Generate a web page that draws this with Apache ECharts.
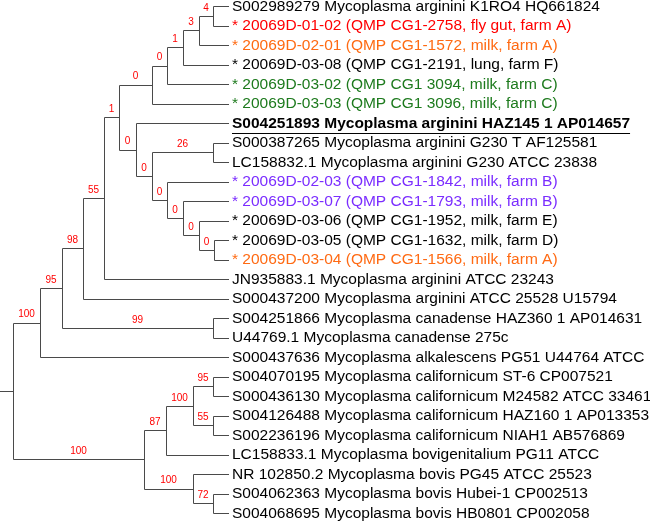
<!DOCTYPE html>
<html>
<head>
<meta charset="utf-8">
<script src="https://cdn.jsdelivr.net/npm/echarts@6/dist/echarts.min.js"></script>
<style>html,body{margin:0;padding:0;background:#fff;}#chart{width:650px;height:526px;}</style>
</head>
<body>
<div id="chart"></div>
<script>
// ---- DATA ----
const leafNames = [
  'S002989279 Mycoplasma arginini K1RO4 HQ661824',
  '* 20069D-01-02 (QMP CG1-2758, fly gut, farm A)',
  '* 20069D-02-01 (QMP CG1-1572, milk, farm A)',
  '* 20069D-03-08 (QMP CG1-2191, lung, farm F)',
  '* 20069D-03-02 (QMP CG1 3094, milk, farm C)',
  '* 20069D-03-03 (QMP CG1 3096, milk, farm C)',
  'S004251893 Mycoplasma arginini HAZ145 1 AP014657',
  'S000387265 Mycoplasma arginini G230 T AF125581',
  'LC158832.1 Mycoplasma arginini G230 ATCC 23838',
  '* 20069D-02-03 (QMP CG1-1842, milk, farm B)',
  '* 20069D-03-07 (QMP CG1-1793, milk, farm B)',
  '* 20069D-03-06 (QMP CG1-1952, milk, farm E)',
  '* 20069D-03-05 (QMP CG1-1632, milk, farm D)',
  '* 20069D-03-04 (QMP CG1-1566, milk, farm A)',
  'JN935883.1 Mycoplasma arginini ATCC 23243',
  'S000437200 Mycoplasma arginini ATCC 25528 U15794',
  'S004251866 Mycoplasma canadense HAZ360 1 AP014631',
  'U44769.1 Mycoplasma canadense 275c',
  'S000437636 Mycoplasma alkalescens PG51 U44764 ATCC',
  'S004070195 Mycoplasma californicum ST-6 CP007521',
  'S000436130 Mycoplasma californicum M24582 ATCC 33461',
  'S004126488 Mycoplasma californicum HAZ160 1 AP013353',
  'S002236196 Mycoplasma californicum NIAH1 AB576869',
  'LC158833.1 Mycoplasma bovigenitalium PG11 ATCC',
  'NR 102850.2 Mycoplasma bovis PG45 ATCC 25523',
  'S004062363 Mycoplasma bovis Hubei-1 CP002513',
  'S004068695 Mycoplasma bovis HB0801 CP002058'
];
const leafGroups = ['ref','flyA','milkA','farmF','farmC','farmC','typeRef','ref','ref','farmB','farmB','farmE','farmD','milkA',
  'ref','ref','ref','ref','ref','ref','ref','ref','ref','ref','ref','ref','ref'];
const leafDepth = 229;

// internal nodes: id, depth, children (numbers = leaf index, strings = node id), bootstrap support
const nodeIds      = ['root','R','O','N','M','G','L','K','J','I','H','A','B','P','C','D','E','F','Q','S','T','V','W','X','U','Y'];
const nodeDepths   = [13, 40, 62, 83, 104, 119, 152, 167, 183, 199, 213, 136, 152, 213, 167, 183, 199, 214, 213, 144, 166, 193, 213, 213, 193, 213];
const nodeChildren = [['R','S'],['O',18],['N','Q'],['M',15],['G',14],['L','A'],['K',5],['J',4],['I',3],['H',2],[0,1],
  [6,'B'],['P','C'],[7,8],[9,'D'],[10,'E'],[11,'F'],[12,13],[16,17],['T','U'],['V',23],['W','X'],[19,20],[21,22],[24,'Y'],[25,26]];
const nodeSupport  = [null,100,95,98,55,1,0,0,1,3,4,0,0,26,0,0,0,0,99,100,87,100,95,55,100,72];

// ---- STYLE ----
const groupColor = {ref:'#000000', typeRef:'#000000', flyA:'#ff0000', milkA:'#ff6a13', farmF:'#000000',
  farmC:'#1d7a1d', farmB:'#7b2dff', farmE:'#000000', farmD:'#000000'};
const FONT = 'Arial, "Liberation Sans", sans-serif';

// ---- compute node y ----
const nodeIndex = {}; nodeIds.forEach((id,i)=>nodeIndex[id]=i);
const nodeY = {};
function yOf(c){
  if (typeof c === 'number') return c;
  if (nodeY[c] !== undefined) return nodeY[c];
  const ch = nodeChildren[nodeIndex[c]];
  const v = (yOf(ch[0]) + yOf(ch[1]))/2;
  nodeY[c] = v; return v;
}
function xOf(c){ return typeof c === 'number' ? leafDepth : nodeDepths[nodeIndex[c]]; }
const nodeData = nodeIds.map((id,i)=>[nodeDepths[i], yOf(id), i]);
const leafData = leafNames.map((n,i)=>[leafDepth, i, i]);
const parentOf = {};
nodeIds.forEach((id,i)=>nodeChildren[i].forEach(c=>{ if(typeof c==='string') parentOf[c]=id; }));

const measureCtx = document.createElement('canvas').getContext('2d');

const chart = echarts.init(document.getElementById('chart'), null, {renderer:'canvas'});
chart.setOption({
  animation:false,
  grid:{left:0,right:0,top:0,bottom:0},
  xAxis:{type:'value',min:0,max:650,show:false},
  yAxis:{type:'value',inverse:true,min:-6/19.5,max:520/19.5,show:false},
  series:[
    {
      type:'custom',
      data:nodeData,
      clip:false,
      renderItem:function(params, api){
        const i = api.value(2);
        const id = nodeIds[i];
        const p = api.coord([nodeDepths[i], yOf(id)]);
        const ch = nodeChildren[i];
        const c0 = api.coord([xOf(ch[0]), yOf(ch[0])]);
        const c1 = api.coord([xOf(ch[1]), yOf(ch[1])]);
        const ls = {stroke:'#4a4a4a', lineWidth:1};
        const px = Math.round(p[0])+0.5;
        const children = [
          {type:'line', shape:{x1:px,y1:Math.round(c0[1])+0.5,x2:px,y2:Math.round(c1[1])+0.5}, style:ls},
          {type:'line', shape:{x1:px,y1:Math.round(c0[1])+0.5,x2:Math.round(c0[0]),y2:Math.round(c0[1])+0.5}, style:ls},
          {type:'line', shape:{x1:px,y1:Math.round(c1[1])+0.5,x2:Math.round(c1[0]),y2:Math.round(c1[1])+0.5}, style:ls}
        ];
        if (id === 'root') {
          const s = api.coord([0, yOf(id)]);
          children.push({type:'line', shape:{x1:s[0],y1:Math.round(p[1])+0.5,x2:px,y2:Math.round(p[1])+0.5}, style:ls});
        }
        if (nodeSupport[i] !== null) {
          const par = api.coord([nodeDepths[nodeIndex[parentOf[id]]], yOf(id)]);
          children.push({type:'text', style:{text:String(nodeSupport[i]), x:(par[0]+p[0])/2, y:p[1]-3,
            align:'center', verticalAlign:'bottom', fill:'#ff0000', font:'10px '+FONT}});
        }
        return {type:'group', children:children};
      }
    },
    {
      type:'custom',
      data:leafData,
      clip:false,
      renderItem:function(params, api){
        const i = api.value(2);
        const p = api.coord([leafDepth, i]);
        const g = leafGroups[i];
        const bold = g === 'typeRef';
        const font = (bold ? 'bold ' : '') + '15.5px ' + FONT;
        const tx = p[0] + 3;
        const children = [{type:'text', style:{text:leafNames[i], x:tx, y:p[1]+0.5, align:'left', verticalAlign:'middle',
          fill:groupColor[g], font:font}}];
        if (bold) {
          measureCtx.font = font;
          const w = measureCtx.measureText(leafNames[i]).width;
          children.push({type:'line', shape:{x1:tx, y1:Math.round(p[1]+10)+0.5, x2:tx+w, y2:Math.round(p[1]+10)+0.5},
            style:{stroke:'#000', lineWidth:1}});
        }
        return {type:'group', children:children};
      }
    }
  ]
});
</script>
</body>
</html>
